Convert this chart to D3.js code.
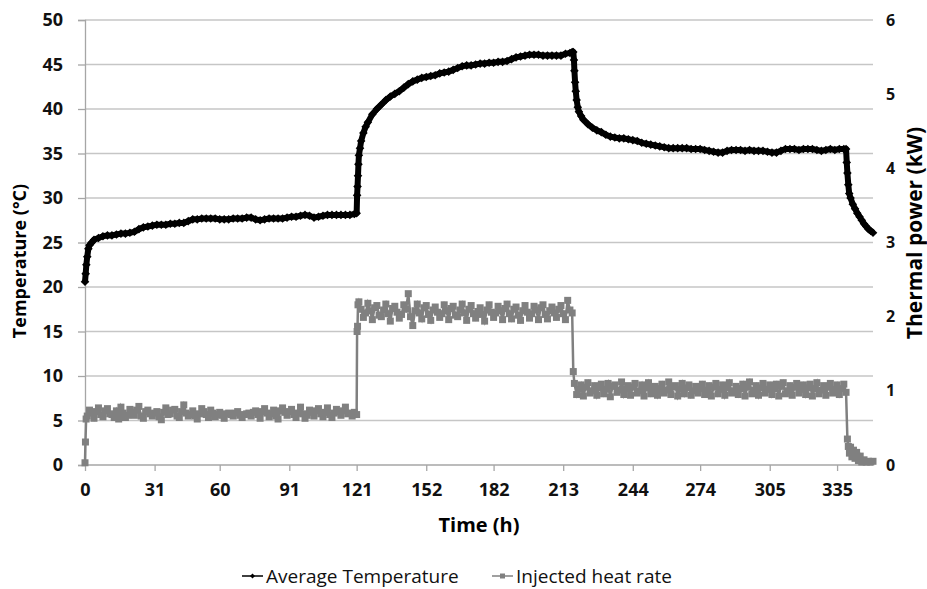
<!DOCTYPE html>
<html>
  <head>
    <style>
    body {
      margin: 0;
      background: #fff;
      font-family: "Open Sans", sans-serif;
    }
    .tick text { font-family: "Open Sans", sans-serif; }
    </style>
  </head>
  <body>
    <script src="https://cdn.jsdelivr.net/npm/d3@7"></script>
    <script>

// tick labels
var xTicks = [0, 31, 60, 91, 121, 152, 182, 213, 244, 274, 305, 335];
var leftTicks = [0, 5, 10, 15, 20, 25, 30, 35, 40, 45, 50];
var rightTicks = [0, 1, 2, 3, 4, 5, 6];

var seriesNames = ["Average Temperature", "Injected heat rate"];

// average temperature (°C) — [hour, value]
var avgTemperature = [
  [0,20.6],[0.3,21.5],[0.6,22.5],[1,23.4],[1.5,24.3],[2,24.7],[3,25.0],[4,25.3],[6,25.5],[8,25.7],
  [10,25.8],[12,25.8],[14,25.9],[16,26.0],[18,26.0],[20,26.1],[22,26.2],[24,26.5],[26,26.7],[28,26.8],
  [30,26.9],[32,27.0],[34,27.0],[36,27.0],[38,27.1],[40,27.1],[42,27.2],[44,27.2],[46,27.4],[48,27.6],
  [50,27.6],[52,27.7],[54,27.7],[56,27.7],[58,27.7],[60,27.6],[62,27.6],[64,27.6],[66,27.7],[68,27.7],
  [70,27.7],[72,27.8],[74,27.8],[76,27.6],[78,27.5],[80,27.6],[82,27.7],[84,27.7],[86,27.7],[88,27.7],
  [90,27.8],[92,27.9],[94,27.9],[96,28.0],[98,28.1],[100,28.0],[102,27.8],[104,27.9],[106,28.0],[108,28.1],
  [110,28.1],[112,28.1],[114,28.1],[116,28.1],[118,28.1],[120,28.2],[121,28.3],
  [121.2,30.3],[121.4,31.3],[121.6,32.5],[121.8,33.8],[122,34.8],[122.5,35.6],[123,36.4],[124,37.3],[125,38.0],
  [126,38.5],[128,39.4],[130,40.0],[132,40.5],[134,41.0],[136,41.4],[138,41.7],[140,42.0],[142,42.4],[144,42.8],
  [146,43.1],[148,43.3],[150,43.5],[152,43.6],[154,43.7],[156,43.8],[158,44.0],[160,44.1],[162,44.2],[164,44.4],
  [166,44.6],[168,44.8],[170,44.9],[172,44.9],[174,45.0],[176,45.1],[178,45.1],[180,45.2],[182,45.2],[184,45.3],
  [186,45.3],[188,45.4],[190,45.6],[192,45.8],[194,45.9],[196,46.0],[198,46.1],[200,46.1],[202,46.1],[204,46.0],
  [206,46.0],[208,46.0],[210,46.0],[212,46.0],[214,46.2],[216,46.3],[217,46.4],[217.5,46.4],
  [217.8,45.5],[218,44.3],[218.3,43.0],[218.6,42.0],[219,41.0],[219.5,40.2],[220,39.7],[221,39.2],[222,38.8],
  [224,38.3],[226,37.9],[228,37.6],[230,37.4],[232,37.1],[234,36.9],[236,36.8],[238,36.7],[240,36.7],[242,36.6],
  [244,36.5],[246,36.4],[248,36.2],[250,36.1],[252,36.0],[254,35.9],[256,35.8],[258,35.7],[260,35.6],[262,35.6],
  [264,35.6],[266,35.6],[268,35.6],[270,35.5],[272,35.5],[274,35.5],[276,35.4],[278,35.3],[280,35.2],[282,35.1],
  [284,35.1],[286,35.3],[288,35.4],[290,35.4],[292,35.4],[294,35.3],[296,35.4],[298,35.3],[300,35.3],[302,35.3],
  [304,35.2],[306,35.1],[308,35.1],[310,35.3],[312,35.5],[314,35.5],[316,35.5],[318,35.4],[320,35.5],[322,35.5],
  [324,35.5],[326,35.4],[328,35.3],[330,35.4],[332,35.5],[334,35.4],[336,35.5],[338,35.5],[339,35.5],
  [339.3,34.0],[339.6,32.8],[340,31.5],[340.4,30.5],[341,30.0],[342,29.3],[343,28.8],[344,28.3],[345,27.9],
  [346,27.5],[347,27.1],[348,26.8],[349,26.5],[350,26.3],[351,26.1]
];

// injected heat rate (kW), hourly readings in the three heating phases
var heatPhase1Start = 1;
var heatPhase1 = [
  0.66,0.74,0.70,0.63,0.72,0.77,0.68,0.65,0.73,0.76,
  0.69,0.68,0.64,0.73,0.62,0.78,0.70,0.64,0.67,0.75,
  0.71,0.67,0.74,0.79,0.66,0.63,0.72,0.74,0.69,0.66,
  0.70,0.72,0.65,0.61,0.71,0.77,0.68,0.69,0.74,0.75,
  0.66,0.64,0.72,0.81,0.70,0.66,0.68,0.73,0.66,0.62,
  0.69,0.76,0.72,0.68,0.64,0.74,0.70,0.65,0.68,0.71,
  0.67,0.63,0.69,0.70,0.68,0.66,0.70,0.72,0.67,0.64,
  0.68,0.69,0.70,0.66,0.71,0.73,0.68,0.63,0.72,0.76,
  0.70,0.65,0.69,0.74,0.66,0.62,0.73,0.77,0.71,0.67,
  0.72,0.75,0.68,0.64,0.70,0.78,0.69,0.63,0.67,0.74,
  0.71,0.66,0.73,0.76,0.69,0.65,0.71,0.77,0.68,0.64,
  0.70,0.75,0.72,0.67,0.73,0.78,0.69,0.70,0.66,0.71,
  0.68
];
var heatPhase2Start = 122;
var heatPhase2 = [
  2.20,2.10,1.99,2.05,2.18,2.08,1.96,2.12,2.15,2.02,
  2.00,2.09,2.17,2.04,1.94,2.11,2.14,2.06,1.98,2.03,
  2.16,2.10,2.31,2.00,1.88,2.08,2.17,2.05,1.97,2.12,
  2.15,2.03,1.95,2.09,2.13,2.06,1.99,2.04,2.16,2.08,
  1.96,2.11,2.14,2.02,2.00,2.09,2.17,2.05,1.95,2.10,
  2.15,2.04,1.98,2.07,2.12,2.03,1.94,2.09,2.16,2.06,
  1.99,2.05,2.14,2.08,1.96,2.11,2.17,2.04,1.97,2.10,
  2.13,2.02,1.95,2.08,2.15,2.06,1.98,2.04,2.14,2.09,
  1.96,2.12,2.16,2.03,1.97,2.08,2.13,2.05,1.99,2.10,
  2.15,2.04,1.96,2.22,2.09,2.05
];
var heatPhase3Start = 218;
var heatPhase3 = [
  1.10,0.95,1.02,1.08,0.93,1.05,1.11,0.97,1.00,1.07,
  0.94,1.04,1.09,0.96,1.02,1.10,0.92,1.06,1.08,0.98,
  1.01,1.12,0.95,1.03,1.07,0.94,1.05,1.10,0.97,1.00,
  1.08,0.93,1.04,1.11,0.96,1.02,1.06,0.94,1.03,1.09,
  0.97,1.01,1.12,0.95,1.05,1.07,0.93,1.02,1.10,0.96,
  1.04,1.08,0.94,1.00,1.06,0.97,1.03,1.09,0.95,1.01,
  1.07,0.93,1.05,1.10,0.96,1.02,1.08,0.94,1.04,1.11,
  0.97,1.00,1.06,0.95,1.03,1.09,0.93,1.05,1.12,0.96,
  1.01,1.07,0.94,1.04,1.10,0.97,1.02,1.08,0.95,1.03,
  1.09,0.93,1.06,1.11,0.96,1.00,1.07,0.94,1.05,1.10,
  0.97,1.02,1.08,0.95,1.04,1.09,0.93,1.03,1.11,0.96,
  1.01,1.07,0.94,1.05,1.10,0.97,1.02,1.08,0.95,1.03,
  1.09,0.98
];
// readings at start-up, switch-overs and shut-down — [hour, value]
var heatStartUp = [[0,0.03],[0.2,0.31],[0.5,0.62]];
var heatStep1 = [[121.2,1.80],[121.4,1.87],[121.6,2.16]];
var heatStep2 = [[217.5,1.26]];
var heatShutDown = [
  [339.6,0.35],[340,0.25],[340.5,0.16],[341,0.24],[341.6,0.11],[342.3,0.20],[343,0.09],[343.7,0.17],
  [344.5,0.06],[345.3,0.12],[346,0.04],[347,0.07],[348,0.04],[349,0.05],[350,0.04],[351,0.05]
];

function hourly(start, values){
  return values.map(function(v, i){ return [start + i, v]; });
}
var heatRate = [].concat(
  heatStartUp,
  hourly(heatPhase1Start, heatPhase1),
  heatStep1,
  hourly(heatPhase2Start, heatPhase2),
  heatStep2,
  hourly(heatPhase3Start, heatPhase3),
  heatShutDown
);

var width = 927, height = 589;
var plot = {left: 85, right: 873, top: 20, bottom: 465};

var svg = d3.select("body").append("svg")
    .attr("width", width)
    .attr("height", height);

var x = d3.scaleLinear().domain([0, 351]).range([plot.left, plot.right]);
var yL = d3.scaleLinear().domain([0, 50]).range([plot.bottom, plot.top]);
var yR = d3.scaleLinear().domain([0, 6]).range([plot.bottom, plot.top]);

// gridlines
svg.append("g").selectAll("line")
    .data(leftTicks.filter(function(d){ return d > 0; }))
  .enter().append("line")
    .attr("x1", plot.left).attr("x2", plot.right)
    .attr("y1", function(d){ return yL(d); })
    .attr("y2", function(d){ return yL(d); })
    .style("stroke", "#c6c6c6")
    .style("stroke-width", 1.3);

// left axis
var gL = svg.append("g")
    .attr("transform", "translate(" + plot.left + ",0)")
    .call(d3.axisLeft(yL).tickValues(leftTicks).tickSize(7).tickPadding(15));

// bottom axis
var gX = svg.append("g")
    .attr("transform", "translate(0," + plot.bottom + ")")
    .call(d3.axisBottom(x).tickValues(xTicks).tickSize(6).tickPadding(12));

// right axis, labels only
var gR = svg.append("g")
    .attr("transform", "translate(" + plot.right + ",0)")
    .call(d3.axisRight(yR).tickValues(rightTicks).tickFormat(d3.format("d")).tickSize(0).tickPadding(13));
gR.select(".domain").remove();

[gL, gX, gR].forEach(function(g){
  g.selectAll(".domain").style("stroke", "#a6a6a6").style("stroke-width", 1.3);
  g.selectAll(".tick line").style("stroke", "#a6a6a6").style("stroke-width", 1.3);
  g.selectAll(".tick text")
    .style("font-size", "18px")
    .style("font-weight", "bold")
    .style("fill", "#111");
});
gX.select(".domain").attr("d", "M" + plot.left + ",0H" + plot.right);
gR.selectAll(".tick text").style("font-size", "16px");

// heat rate series
var lineH = d3.line()
    .x(function(d){ return x(d[0]); })
    .y(function(d){ return yR(d[1]); });

svg.append("path")
    .datum(heatRate)
    .attr("d", lineH)
    .style("fill", "none")
    .style("stroke", "#808080")
    .style("stroke-width", 2.5);

svg.append("g").selectAll("rect")
    .data(heatRate)
  .enter().append("rect")
    .attr("x", function(d){ return x(d[0]) - 3.5; })
    .attr("y", function(d){ return yR(d[1]) - 3.5; })
    .attr("width", 7).attr("height", 7)
    .style("fill", "#808080");

// temperature series
var lineT = d3.line()
    .x(function(d){ return x(d[0]); })
    .y(function(d){ return yL(d[1]); });

svg.append("path")
    .datum(avgTemperature)
    .attr("d", lineT)
    .style("fill", "none")
    .style("stroke", "#000")
    .style("stroke-width", 6)
    .style("stroke-linejoin", "round");

var diamond = "M0,-4.3L4.3,0L0,4.3L-4.3,0Z";
svg.append("g").selectAll("path")
    .data(avgTemperature)
  .enter().append("path")
    .attr("d", diamond)
    .attr("transform", function(d){ return "translate(" + x(d[0]) + "," + yL(d[1]) + ")"; })
    .style("fill", "#000");

// axis titles
svg.append("text")
    .attr("transform", "translate(26,261) rotate(-90)")
    .attr("text-anchor", "middle")
    .style("font-size", "18px")
    .style("font-weight", "bold")
    .text("Temperature (°C)");

svg.append("text")
    .attr("transform", "translate(922,233) rotate(-90)")
    .attr("text-anchor", "middle")
    .style("font-size", "21px")
    .style("font-weight", "bold")
    .text("Thermal power (kW)");

svg.append("text")
    .attr("x", (plot.left + plot.right) / 2)
    .attr("y", 532)
    .attr("text-anchor", "middle")
    .style("font-size", "20px")
    .style("font-weight", "bold")
    .text("Time (h)");

// legend
var legend = [
  {name: seriesNames[0], x: 242, color: "#000"},
  {name: seriesNames[1], x: 492, color: "#808080"}
];
var lg = svg.append("g").selectAll("g")
    .data(legend)
  .enter().append("g")
    .attr("transform", function(d){ return "translate(" + d.x + ",576)"; });
lg.append("line")
    .attr("x1", 0).attr("x2", 21)
    .style("stroke", function(d){ return d.color; })
    .style("stroke-width", 1.5);
lg.append("path")
    .attr("d", function(d, i){ return i === 0 ? "M0,-2.5L2.5,0L0,2.5L-2.5,0Z" : "M-2.5,-2.5H2.5V2.5H-2.5Z"; })
    .attr("transform", "translate(10.5,0)")
    .style("fill", function(d){ return d.color; });
lg.append("text")
    .attr("x", 24)
    .attr("y", 6.5)
    .style("font-size", "19px")
    .style("fill", "#111")
    .text(function(d){ return d.name; });

    </script>
  </body>
</html>
